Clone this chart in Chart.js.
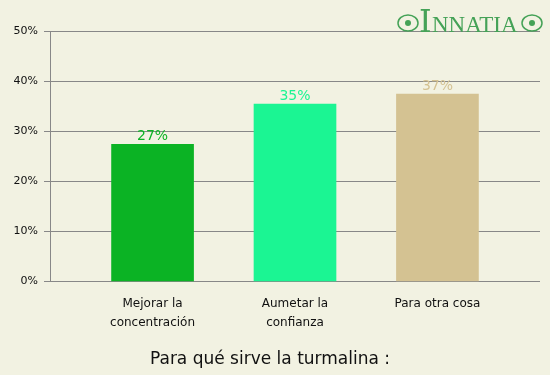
<!DOCTYPE html>
<html>
<head>
<meta charset="utf-8">
<script src="https://cdn.jsdelivr.net/npm/chart.js@4.4.0/dist/chart.umd.min.js"></script>
<style>
  html, body { margin: 0; padding: 0; background: #f2f2e2; }
  #wrap { width: 550px; height: 375px; }
</style>
</head>
<body>
<div id="wrap"><canvas id="chart" width="550" height="375"></canvas></div>
<script>
// Chart data
const categories = [['Mejorar la', 'concentración'], ['Aumetar la', 'confianza'], ['Para otra cosa']];
const positions = [1, 2, 3];
const values = [27.4, 35.4, 37.4];
const barColors = ['#0bb324', '#1bf593', '#d4c292'];
const yTicks = [0, 10, 20, 30, 40, 50];
const titleText = 'Para qué sirve la turmalina :';

const FONT = "'DejaVu Sans', sans-serif";

// Value labels above each bar
const valueLabels = {
    id: 'valueLabels',
    afterDatasetsDraw(chart) {
        const ctx = chart.ctx;
        const meta = chart.getDatasetMeta(0);
        ctx.save();
        ctx.font = '14px ' + FONT;
        ctx.textAlign = 'center';
        ctx.textBaseline = 'bottom';
        meta.data.forEach((bar, i) => {
            ctx.fillStyle = barColors[i];
            ctx.fillText(Math.round(values[i]) + '%', bar.x, bar.y - 1);
        });
        ctx.restore();
    }
};

// Brand mark in the top right corner
const logo = {
    id: 'logo',
    afterDraw(chart) {
        const ctx = chart.ctx;
        ctx.save();
        ctx.fillStyle = '#45a257';
        ctx.strokeStyle = '#45a257';
        ctx.lineWidth = 1.5;
        ctx.textBaseline = 'alphabetic';
        ctx.font = '32px "DejaVu Serif", serif';
        ctx.fillText('I', 419, 32);
        ctx.font = '23px "Liberation Serif", serif';
        ctx.fillText('NNATIA', 432, 32);
        // swirls
        [[408, 23], [532, 23]].forEach(([cx, cy]) => {
            ctx.beginPath();
            ctx.ellipse(cx, cy, 10, 8, 0, 0, Math.PI * 2);
            ctx.stroke();
            ctx.beginPath();
            ctx.arc(cx, cy, 3, 0, Math.PI * 2);
            ctx.fill();
        });
        ctx.restore();
    }
};

new Chart(document.getElementById('chart'), {
    type: 'bar',
    data: {
        datasets: [{
            data: positions.map((p, i) => ({ x: p, y: values[i] })),
            backgroundColor: barColors,
            borderWidth: 0,
            barThickness: 82
        }]
    },
    options: {
        responsive: false,
        animation: false,
        layout: { padding: { top: 31, right: 10, left: 0, bottom: 0 } },
        scales: {
            x: {
                type: 'linear',
                offset: false,
                min: 0.28,
                max: 3.72,
                afterBuildTicks: scale => { scale.ticks = positions.map(v => ({ value: v })); },
                afterFit: scale => { scale.height = 59; },
                grid: { display: false },
                border: { display: false },
                ticks: {
                    padding: 5,
                    color: '#111',
                    font: { family: FONT, size: 12, lineHeight: 1.55 },
                    maxRotation: 0,
                    autoSkip: false,
                    callback: (v, i) => categories[i]
                }
            },
            y: {
                min: 0,
                max: 50,
                afterBuildTicks: scale => { scale.ticks = yTicks.map(v => ({ value: v })); },
                afterFit: scale => { scale.width = 50; },
                grid: { color: '#888', lineWidth: 1, tickLength: 6 },
                border: { color: '#888' },
                ticks: {
                    padding: 6,
                    color: '#111',
                    font: { family: FONT, size: 11 },
                    callback: v => v + '%'
                }
            }
        },
        plugins: {
            legend: { display: false },
            tooltip: { enabled: false },
            title: {
                display: true,
                text: titleText,
                position: 'bottom',
                color: '#111',
                font: { family: FONT, size: 17, weight: 'normal' },
                padding: { top: 9, bottom: 5 }
            }
        }
    },
    plugins: [valueLabels, logo]
});
</script>
</body>
</html>
